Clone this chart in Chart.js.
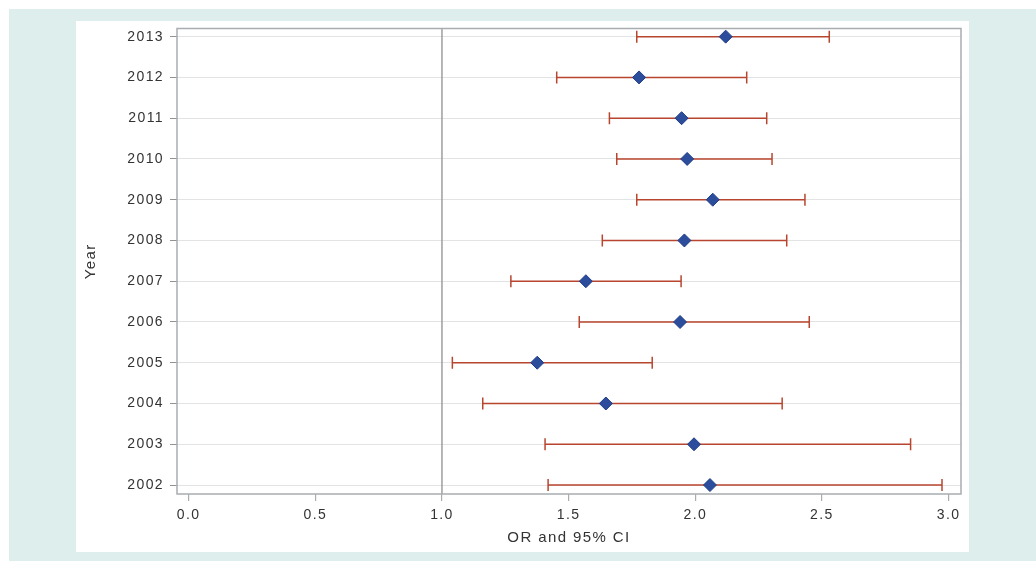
<!DOCTYPE html>
<html>
<head>
<meta charset="utf-8">
<script src="https://cdn.jsdelivr.net/npm/chart.js@4"></script>
<style>
  html, body { margin: 0; padding: 0; background: #ffffff; }
  body { width: 1036px; height: 561px; position: relative; overflow: hidden; }
  #bg { position: absolute; left: 9px; top: 9px; width: 1027px; height: 552px; background: #ddeeec; }
  #panel { position: absolute; left: 76px; top: 21px; width: 893px; height: 531px; background: #ffffff; }
  canvas { display: block; }
</style>
</head>
<body>
<div id="bg"></div>
<div id="panel"><canvas id="c" width="893" height="531"></canvas></div>
<script>
const years  = [2013, 2012, 2011, 2010, 2009, 2008, 2007, 2006, 2005, 2004, 2003, 2002];
const orVals = [2.120, 1.778, 1.946, 1.968, 2.069, 1.957, 1.568, 1.940, 1.376, 1.647, 1.995, 2.058];
const ciLow  = [1.769, 1.453, 1.661, 1.690, 1.769, 1.633, 1.272, 1.542, 1.041, 1.161, 1.407, 1.419];
const ciHigh = [2.529, 2.203, 2.282, 2.303, 2.433, 2.361, 1.944, 2.450, 1.830, 2.343, 2.850, 2.974];
const xTicks = [0.0, 0.5, 1.0, 1.5, 2.0, 2.5, 3.0];
const refValue = 1.0;

const RED = '#b8452e';
const TEXT = '#333333';
const FONT = "'Liberation Sans', Arial, sans-serif";

const ciSets = years.map((y, i) => ({
  data: [{x: ciLow[i], y: y}, {x: ciHigh[i], y: y}],
  showLine: true,
  borderColor: RED,
  borderWidth: 1.5,
  pointStyle: 'line',
  rotation: 90,
  pointRadius: 6,
  pointBorderColor: RED,
  pointBorderWidth: 1.5,
  order: 2
}));

const orSet = {
  data: years.map((y, i) => ({x: orVals[i], y: y})),
  showLine: false,
  pointStyle: 'rectRot',
  pointRadius: 6.5,
  pointBackgroundColor: '#2c4d9c',
  pointBorderColor: '#1f3d88',
  pointBorderWidth: 1,
  order: 0
};

const spacingPlugin = {
  id: 'spacing',
  beforeDraw(chart) { chart.ctx.letterSpacing = '1.4px'; }
};

const framePlugin = {
  id: 'frame',
  beforeDatasetsDraw(chart) {
    const {ctx, chartArea: a, scales: {x}} = chart;
    ctx.save();
    const rx = x.getPixelForValue(refValue);
    ctx.strokeStyle = '#9e9e9e';
    ctx.lineWidth = 1.5;
    ctx.beginPath();
    ctx.moveTo(rx, a.top);
    ctx.lineTo(rx, a.bottom);
    ctx.stroke();
    ctx.restore();
  },
  afterDraw(chart) {
    const {ctx, chartArea: a} = chart;
    ctx.save();
    ctx.strokeStyle = '#a9adb0';
    ctx.lineWidth = 1.5;
    ctx.strokeRect(a.left, a.top, a.right - a.left, a.bottom - a.top);
    ctx.restore();
  }
};

new Chart(document.getElementById('c'), {
  type: 'scatter',
  data: { datasets: [orSet, ...ciSets] },
  options: {
    responsive: false,
    animation: false,
    devicePixelRatio: 1,
    layout: { padding: { top: 4, right: 8, left: 0, bottom: 0 } },
    plugins: { legend: { display: false }, tooltip: { enabled: false } },
    scales: {
      x: {
        type: 'linear',
        min: -0.046,
        max: 3.049,
        afterBuildTicks: s => { s.ticks = xTicks.map(v => ({value: v})); },
        afterFit: s => { s.height = 58; s.paddingLeft = 0; s.paddingRight = 0; },
        border: { display: false },
        grid: { drawOnChartArea: false, drawTicks: true, tickLength: 7, tickColor: '#a9adb0', lineWidth: 1.2 },
        ticks: {
          color: TEXT,
          font: { family: FONT, size: 14 },
          padding: 6,
          maxRotation: 0,
          callback: v => Number(v).toFixed(1)
        },
        title: {
          display: true,
          text: 'OR and 95% CI',
          color: TEXT,
          font: { family: FONT, size: 15 },
          padding: { top: 0, bottom: 5 }
        }
      },
      y: {
        type: 'linear',
        min: 2001.78,
        max: 2013.2,
        afterBuildTicks: s => { s.ticks = years.map(v => ({value: v})); },
        afterFit: s => { s.width = 101; s.paddingTop = 0; s.paddingBottom = 0; },
        border: { display: false },
        grid: { drawOnChartArea: true, color: '#e3e3e3', lineWidth: 1, drawTicks: true, tickLength: 7, tickColor: '#8f9396' },
        ticks: {
          color: TEXT,
          font: { family: FONT, size: 14 },
          padding: 6,
          callback: v => String(v)
        },
        title: {
          display: true,
          text: 'Year',
          color: TEXT,
          font: { family: FONT, size: 15 },
          padding: { top: 6, bottom: 0 }
        }
      }
    }
  },
  plugins: [spacingPlugin, framePlugin]
});
</script>
</body>
</html>
